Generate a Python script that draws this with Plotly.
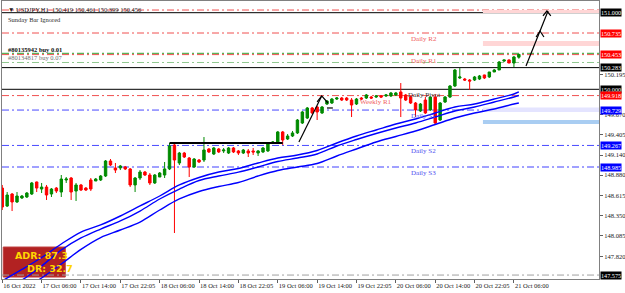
import plotly.graph_objects as go

# ---------------- data ----------------
bar_index = list(range(106))
opens = [148.711,148.476,148.633,148.529,148.581,148.594,148.633,148.790,148.698,148.724,
         148.633,148.711,148.659,148.816,148.842,148.672,148.751,148.711,148.816,148.803,
         148.816,148.868,149.064,148.973,148.973,148.986,148.960,148.751,148.842,148.920,
         148.881,148.777,148.855,148.881,148.960,149.273,149.038,149.168,149.103,148.986,
         149.077,149.077,149.221,149.155,149.221,149.195,149.168,149.234,149.195,149.168,
         149.195,149.195,149.168,149.182,149.195,149.299,149.299,149.443,149.351,149.390,
         149.430,149.560,149.625,149.756,149.769,149.691,149.808,149.821,149.873,149.886,
         149.886,149.860,149.808,149.886,149.886,149.899,149.899,149.913,149.913,149.913,
         149.926,149.965,149.926,149.899,149.821,149.717,149.860,149.730,149.899,149.599,
         149.834,149.899,150.043,150.148,150.134,150.121,150.121,150.134,150.187,150.161,
         150.226,150.252,150.369,150.383,150.343,150.419]
highs = [148.751,148.659,148.646,148.659,148.620,148.659,148.790,148.795,148.777,148.751,
         148.711,148.724,148.881,148.855,148.855,148.777,148.764,148.724,148.842,148.842,
         148.881,149.077,149.090,149.038,149.012,148.999,148.973,148.855,148.946,148.933,
         148.907,148.894,148.920,149.051,149.299,149.299,149.182,149.182,149.116,149.103,
         149.090,149.377,149.234,149.247,149.234,149.234,149.247,149.247,149.208,149.221,
         149.221,149.234,149.208,149.247,149.312,149.325,149.456,149.456,149.416,149.456,
         149.612,149.717,149.769,149.769,149.782,149.782,149.860,149.886,149.899,149.899,
         149.899,149.886,149.886,149.899,149.939,149.913,149.926,149.926,149.939,149.965,
         149.965,150.082,149.939,149.913,149.834,149.821,149.899,149.899,149.939,149.834,
         149.913,150.056,150.265,150.278,150.148,150.134,150.174,150.187,150.190,150.226,
         150.265,150.369,150.383,150.390,150.435,150.461]
lows = [148.424,148.463,148.411,148.516,148.568,148.581,148.620,148.659,148.646,148.555,
        148.594,148.646,148.594,148.777,148.555,148.542,148.672,148.672,148.672,148.803,
        148.803,148.855,148.999,148.907,148.946,148.946,148.724,148.659,148.816,148.868,
        148.751,148.764,148.855,148.842,148.946,148.124,149.012,149.103,148.855,148.973,
        149.038,149.051,149.168,149.142,149.168,149.168,149.155,149.168,149.142,149.155,
        149.116,149.142,149.129,149.168,149.182,149.286,149.286,149.273,149.338,149.377,
        149.416,149.547,149.612,149.678,149.599,149.678,149.795,149.808,149.860,149.847,
        149.847,149.638,149.795,149.860,149.873,149.873,149.886,149.886,149.899,149.899,
        149.913,149.638,149.847,149.808,149.638,149.704,149.678,149.717,149.547,149.586,
        149.821,149.886,150.030,150.134,150.108,149.991,150.108,150.121,150.134,150.148,
        150.226,150.252,150.356,150.343,150.291,150.399]
closes = [148.463,148.620,148.529,148.607,148.607,148.646,148.777,148.711,148.724,148.620,
          148.698,148.672,148.829,148.829,148.659,148.751,148.685,148.685,148.698,148.829,
          148.868,149.064,149.012,148.946,148.999,148.960,148.751,148.842,148.920,148.881,
          148.777,148.881,148.907,148.960,149.260,149.077,149.168,149.116,148.986,149.090,
          149.051,149.208,149.182,149.234,149.182,149.208,149.234,149.182,149.168,149.208,
          149.168,149.182,149.195,149.234,149.299,149.312,149.443,149.338,149.390,149.430,
          149.599,149.704,149.756,149.691,149.704,149.769,149.847,149.873,149.886,149.860,
          149.860,149.795,149.873,149.873,149.926,149.886,149.913,149.899,149.926,149.952,
          149.952,149.886,149.860,149.821,149.730,149.808,149.691,149.899,149.560,149.821,
          149.899,150.043,150.252,150.161,150.121,150.108,150.161,150.174,150.148,150.226,
          150.252,150.356,150.383,150.343,150.422,150.456]

# moving-average channel (sampled bar index, price)
ma_top_idx = [0,4,8,12,16,20,24,28,32,36,40,44,48,52,56,60,64,68,72,76,80,84,88,92,96,100,104,105]
ma_top = [147.50,147.648,147.804,147.98,148.137,148.229,148.346,148.477,148.607,148.751,148.849,
          148.920,148.966,149.038,149.103,149.142,149.201,149.299,149.390,149.469,149.547,149.612,
          149.691,149.769,149.808,149.873,149.939,149.965]
ma_mid_idx = [3,4,8,12,16,20,24,28,32,36,40,44,48,52,56,60,64,68,72,76,80,84,88,92,96,100,104,105]
ma_mid = [147.484,147.510,147.693,147.902,148.059,148.176,148.281,148.411,148.568,148.698,148.809,
          148.868,148.918,148.986,149.057,149.103,149.155,149.260,149.345,149.423,149.495,149.560,
          149.638,149.717,149.769,149.834,149.900,149.919]
ma_bot_idx = [7,8,12,16,20,24,28,32,36,40,44,48,52,56,60,64,68,72,76,80,84,88,92,96,100,104,105]
ma_bot = [147.497,147.537,147.719,147.911,148.065,148.163,148.267,148.424,148.568,148.666,148.731,
          148.783,148.868,148.940,148.986,149.031,149.129,149.221,149.312,149.384,149.456,149.540,
          149.625,149.691,149.743,149.808,149.821]

tick_idx = [0,8,16,24,32,40,48,56,64,72,80,88,96,104]
tick_text = ["16 Oct 2022","17 Oct 06:00","17 Oct 14:00","17 Oct 22:05","18 Oct 06:00",
             "18 Oct 14:00","18 Oct 22:05","19 Oct 06:00","19 Oct 14:00","19 Oct 22:05",
             "20 Oct 06:00","20 Oct 14:00","20 Oct 22:05","21 Oct 06:00"]
price_ticks = [150.195,149.670,149.405,149.140,148.880,148.615,148.350,148.085,147.820]

# levels: price, box colour
level_prices = [151.000,150.735,150.453,150.283,150.000,149.918,149.729,149.267,148.985,147.575]
level_box = ["#000000","#FF0000","#FF0000","#000000","#000000","#FF0000","#0000FF","#0000FF","#0000FF","#000000"]

pivot_names = ["Daily R2","Daily R1","Daily Pivot","Weekly R1","Daily S1","Daily S2","Daily S3"]
pivot_prices = [150.735,150.453,150.000,149.918,149.729,149.267,148.985]
pivot_x = [82.7,82.7,82.0,72.3,82.7,82.7,82.7]
pivot_col = ["#F06060","#F06060","#303030","#F06060","#5050F0","#5050F0","#5050F0"]

order_names = ["#80135942 buy 0.01","#80134817 buy 0.07"]
order_prices = [150.470,150.350]

support_seg_idx = [34,57]
support_seg_price = [149.299,149.299]

# hand-drawn arrows (bar index, price); None separates strokes
arrow1_idx = [60.3,64.93,None,64.0,64.93,66.2,None,66.0,67.2]
arrow1_price = [149.312,149.913,None,149.835,149.913,149.821,None,149.756,149.756]
arrow2_idx = [106.45,109.3,110.93,None,108.5,109.3,110.1,None,109.9,110.7,111.5]
arrow2_price = [150.304,150.748,151.022,None,150.683,150.761,150.683,None,150.957,151.022,150.957]

zone_prices = [(151.035,150.996),(150.631,150.565),(149.762,149.704),(149.599,149.547)]
zone_cols = ["#FFD6D6","#FFD6D6","#E4E4FF","#A9CDF2"]
zone_start = 97.7

# ---------------- figure ----------------
FONT = "Liberation Serif"
fig = go.Figure()

x_lo, x_hi = -0.05, 121.29
y_lo, y_hi = 147.5235, 151.1527

for (p1, p0), c in zip(zone_prices, zone_cols):
    fig.add_shape(type="rect", xref="x", yref="y", x0=zone_start, x1=x_hi, y0=p0, y1=p1,
                  fillcolor=c, line_width=0, layer="below")

# ADR box
fig.add_shape(type="rect", xref="paper", yref="paper", x0=0.002, x1=0.106, y0=0.007, y1=0.115,
              fillcolor="#B22222", line=dict(color="#C04040", width=1), layer="below")

dd = "7px,3px,2px,3px"
line_style = {
    151.000: ("#000000", "solid", 1),
    150.735: ("#F05050", dd, 1),
    150.453: ("#F05050", dd, 1),
    150.283: ("#000000", "solid", 1),
    150.000: ("#000000", "solid", 1),
    149.918: ("#F05050", dd, 1),
    149.729: ("#4A4AFF", dd, 1),
    149.267: ("#4A4AFF", dd, 1),
    148.985: ("#A0A0FF", dd, 2),
    147.575: ("#A0A0A0", dd, 1),
}
for p in level_prices:
    c, d, w = line_style[p]
    fig.add_shape(type="line", xref="paper", yref="y", x0=0, x1=1, y0=p, y1=p,
                  line=dict(color=c, dash=d, width=w), layer="below")
fig.add_shape(type="line", xref="paper", yref="y", x0=0, x1=1, y0=151.035, y1=151.035,
              line=dict(color="#F05050", dash=dd, width=1), layer="below")
for p, c in zip(order_prices, ["#30A030", "#90C890"]):
    fig.add_shape(type="line", xref="paper", yref="y", x0=0, x1=1, y0=p, y1=p,
                  line=dict(color=c, dash=dd, width=1), layer="below")

for xs, ys in [(ma_top_idx, ma_top), (ma_mid_idx, ma_mid), (ma_bot_idx, ma_bot)]:
    fig.add_trace(go.Scatter(x=xs, y=ys, mode="lines", line=dict(color="#0000FF", width=1.4, shape="spline"),
                             hoverinfo="skip", showlegend=False))

fig.add_trace(go.Candlestick(x=bar_index, open=opens, high=highs, low=lows, close=closes,
                             increasing=dict(line=dict(color="#008A00", width=1), fillcolor="#008A00"),
                             decreasing=dict(line=dict(color="#FF0000", width=1), fillcolor="#FF0000"),
                             whiskerwidth=0, showlegend=False))

fig.add_trace(go.Scatter(x=support_seg_idx, y=support_seg_price, mode="lines",
                         line=dict(color="#000000", width=2), hoverinfo="skip", showlegend=False))
for xs, ys in [(arrow1_idx, arrow1_price), (arrow2_idx, arrow2_price)]:
    fig.add_trace(go.Scatter(x=xs, y=ys, mode="lines", line=dict(color="#000000", width=1.2),
                             connectgaps=False, hoverinfo="skip", showlegend=False))

for n, p, xx, c in zip(pivot_names, pivot_prices, pivot_x, pivot_col):
    fig.add_annotation(x=xx, y=p, xref="x", yref="y", text=n, showarrow=False, xanchor="left",
                       yanchor="top", yshift=0, font=dict(family=FONT, size=7, color=c))

for p, c in zip(level_prices, level_box):
    fig.add_annotation(x=1, y=p, xref="paper", yref="y", text=f"{p:.3f}", showarrow=False,
                       xanchor="left", yanchor="middle", xshift=1, bgcolor=c, borderpad=0,
                       font=dict(family=FONT, size=6.2, color="#FFFFFF"))

fig.add_annotation(x=0.006, y=1.0, xref="paper", yref="paper", yshift=-3,
                   text="▼ USDJPY,H1  150.419 150.461 150.399 150.456", showarrow=False,
                   xanchor="left", yanchor="top", font=dict(family=FONT, size=6.5, color="#202020"))
fig.add_annotation(x=0.006, y=1.0, xref="paper", yref="paper", yshift=-13,
                   text="Sunday Bar Ignored", showarrow=False,
                   xanchor="left", yanchor="top", font=dict(family=FONT, size=6.5, color="#303030"))
fig.add_annotation(x=0.006, y=order_prices[0], xref="paper", yref="y", text="<b>" + order_names[0] + "</b>",
                   showarrow=False, xanchor="left", yanchor="bottom", yshift=-2,
                   font=dict(family=FONT, size=6.5, color="#101010"))
fig.add_annotation(x=0.006, y=order_prices[1], xref="paper", yref="y", text=order_names[1],
                   showarrow=False, xanchor="left", yanchor="bottom", yshift=-1,
                   font=dict(family=FONT, size=6.5, color="#707070"))

fig.add_annotation(x=0.018, y=0.085, xref="paper", yref="paper", text="<b>ADR: 87.3</b>", showarrow=False,
                   xanchor="left", yanchor="middle", font=dict(family="DejaVu Sans", size=9.5, color="#FFD700"))
fig.add_annotation(x=0.038, y=0.038, xref="paper", yref="paper", text="<b>DR: 32.7</b>", showarrow=False,
                   xanchor="left", yanchor="middle", font=dict(family="DejaVu Sans", size=9.5, color="#FFD700"))

fig.update_layout(
    width=625, height=293, margin=dict(l=2, r=26, t=1, b=14, autoexpand=False),
    paper_bgcolor="#FFFFFF", plot_bgcolor="#FFFFFF",
    xaxis=dict(range=[x_lo, x_hi], tickvals=tick_idx, ticktext=tick_text, ticks="outside",
               ticklen=3, tickcolor="#606060", ticklabelposition="outside right", tickangle=0,
               automargin=False,
               showgrid=False, zeroline=False, rangeslider=dict(visible=False),
               showline=True, linecolor="#808080", linewidth=1, mirror=True,
               tickfont=dict(family=FONT, size=6.5, color="#202020")),
    yaxis=dict(range=[y_lo, y_hi], side="right", tickvals=price_ticks, automargin=False,
               ticktext=[f"{v:.3f}" for v in price_ticks], ticks="outside", ticklen=3,
               tickcolor="#606060", showgrid=False, zeroline=False,
               showline=True, linecolor="#808080", linewidth=1, mirror=True,
               tickfont=dict(family=FONT, size=6.5, color="#202020")),
    showlegend=False,
)
fig.write_html("out.html")
